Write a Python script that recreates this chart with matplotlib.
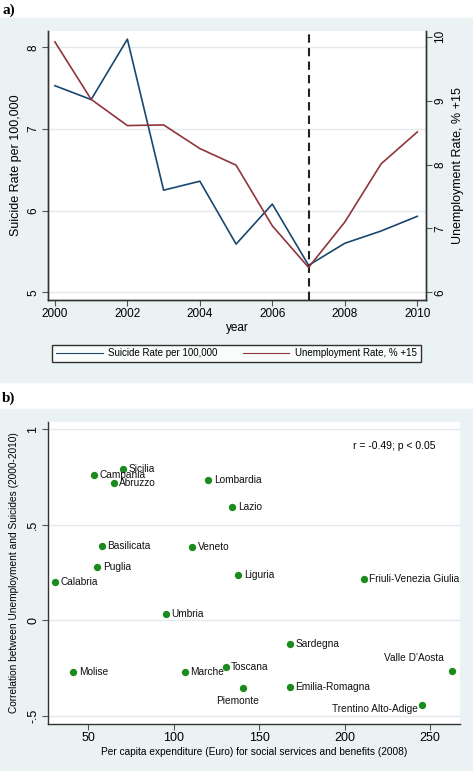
import matplotlib
matplotlib.use("Agg")
import matplotlib.pyplot as plt
from matplotlib.patches import Rectangle

plt.rcParams['font.family'] = ['Liberation Sans', 'DejaVu Sans']

# panel a data
years = [2000, 2001, 2002, 2003, 2004, 2005, 2006, 2007, 2008, 2009, 2010]
suicide_rate = [7.53, 7.36, 8.10, 6.25, 6.36, 5.59, 6.08, 5.33, 5.60, 5.75, 5.93]
unemployment_rate = [9.92, 9.02, 8.61, 8.62, 8.25, 7.99, 7.04, 6.39, 7.10, 8.01, 8.51]
crisis_year = 2007

# panel b data
regions = ["Sicilia", "Campania", "Abruzzo", "Lombardia", "Lazio", "Basilicata",
           "Veneto", "Puglia", "Calabria", "Liguria", "Friuli-Venezia Giulia",
           "Umbria", "Sardegna", "Molise", "Marche", "Toscana", "Piemonte",
           "Emilia-Romagna", "Valle D'Aosta", "Trentino Alto-Adige"]
expenditure = [70.3, 53.5, 64.8, 120.2, 134.3, 57.8, 110.9, 55.3, 30.3, 137.8,
               211.2, 95.3, 168.2, 41.2, 106.6, 130.4, 140.7, 168.0, 262.9, 245.5]
correlation = [0.792, 0.761, 0.719, 0.735, 0.592, 0.391, 0.386, 0.278, 0.203, 0.239,
               0.215, 0.032, -0.123, -0.268, -0.268, -0.245, -0.354, -0.347, -0.265, -0.444]
# label placement: r = right, b = below, ul = upper left, l = left
label_pos = ["r"] * 16 + ["b", "r", "ul", "l"]

BG = "#EAF2F3"
GRID = "#E2EAEC"
NAVY = "#1A476F"
MAROON = "#90353B"
GREEN = "#1C8A1C"

W, H = 473, 771
fig = plt.figure(figsize=(W / 100, H / 100), dpi=100)

# grey backgrounds behind each panel
fig.patches.append(Rectangle((0, 1 - 382 / H), 1, (382 - 18) / H,
                             transform=fig.transFigure, color=BG, zorder=-10))
fig.patches.append(Rectangle((0, 0), 1, 1 - 409 / H,
                             transform=fig.transFigure, color=BG, zorder=-10))

fig.text(2 / W, 1 - 10 / H, "a)", family="Liberation Serif", fontweight="bold",
         fontsize=11, va="center", ha="left")
fig.text(2 / W, 1 - 398 / H, "b)", family="Liberation Serif", fontweight="bold",
         fontsize=11, va="center", ha="left")

# ---------- panel a ----------
ax = fig.add_axes([48 / W, 1 - 300 / H, (426 - 48) / W, (300 - 31) / H])
ax.set_facecolor("white")
l1, = ax.plot(years, suicide_rate, color=NAVY, lw=1.2, label="Suicide Rate per 100,000")
ax.axvline(crisis_year, color="#222222", lw=1.5, ls=(0, (4, 2.5)))
ax.set_xlim(1999.81, 2010.24)
ax.set_ylim(4.905, 8.2)
ax.set_yticks([5, 6, 7, 8])
ax.set_xticks([2000, 2002, 2004, 2006, 2008, 2010])
ax.grid(axis="y", color=GRID, lw=1)
ax.set_axisbelow(True)
ax.set_ylabel("Suicide Rate per 100,000", fontsize=9, labelpad=4)
ax.set_xlabel("year", fontsize=8.5, labelpad=1)
for lab in ax.get_yticklabels():
    lab.set_rotation(90)
    lab.set_va("center")

ax2 = ax.twinx()
l2, = ax2.plot(years, unemployment_rate, color=MAROON, lw=1.2, label="Unemployment Rate, % +15")
ax2.set_ylim(5.88, 10.09)
ax2.set_yticks([6, 7, 8, 9, 10])
ax2.set_ylabel("Unemployment Rate, % +15", fontsize=9, labelpad=4)
for lab in ax2.get_yticklabels():
    lab.set_rotation(90)
    lab.set_va("center")

for a in (ax, ax2):
    a.spines["top"].set_visible(False)
    for s in ("left", "bottom", "right"):
        a.spines[s].set_color("#333333")
        a.spines[s].set_linewidth(1)
    a.tick_params(labelsize=8.5, length=4, width=0.8, color="#555555", pad=2)

leg = ax.legend(handles=[l1, l2], ncol=2, loc="center", mode="expand",
                bbox_to_anchor=(52 / W, 1 - 365 / H, (421 - 52) / W, 23 / H),
                bbox_transform=fig.transFigure, fontsize=7, frameon=True,
                fancybox=False, handlelength=4.8, handletextpad=0.6, borderaxespad=0)
leg.get_frame().set_edgecolor("black")
leg.get_frame().set_linewidth(1)
for ln in leg.get_lines():
    ln.set_linewidth(0.8)

# ---------- panel b ----------
bx = fig.add_axes([47.7 / W, 1 - 724 / H, (460 - 47.7) / W, (724 - 422) / H])
bx.set_facecolor("white")
bx.scatter(expenditure, correlation, s=28, color=GREEN, zorder=3, linewidths=0)
bx.set_xlim(26.2, 267.6)
bx.set_ylim(-0.542, 1.038)
bx.set_xticks([50, 100, 150, 200, 250])
bx.set_yticks([-0.5, 0, 0.5, 1])
bx.set_yticklabels(["-.5", "0", ".5", "1"])
bx.grid(axis="y", color=GRID, lw=1)
bx.set_axisbelow(True)
for lab in bx.get_yticklabels():
    lab.set_rotation(90)
    lab.set_va("center")
bx.spines["top"].set_visible(False)
bx.spines["right"].set_visible(False)
for s in ("left", "bottom"):
    bx.spines[s].set_color("#333333")
    bx.spines[s].set_linewidth(1)
bx.tick_params(labelsize=9, length=4, width=0.8, color="#555555", pad=2)
bx.set_xlabel("Per capita expenditure (Euro) for social services and benefits (2008)",
              fontsize=7.3, labelpad=2)
bx.set_ylabel("Correlation between Unemployment and Suicides (2000-2010)",
              fontsize=7.3, labelpad=6)

offsets = {"r": ((4, 0), "left", "center"),
           "b": ((-4, -6), "center", "top"),
           "ul": ((-6, 6), "right", "bottom"),
           "l": ((-3, -3), "right", "center")}
for name, xv, yv, pos in zip(regions, expenditure, correlation, label_pos):
    (dx, dy), ha, va = offsets[pos]
    bx.annotate(name, (xv, yv), xytext=(dx, dy), textcoords="offset points",
                ha=ha, va=va, fontsize=7.3, color="#111111")

bx.text(0.94, 0.92, "r = -0.49; p < 0.05", transform=bx.transAxes,
        ha="right", va="center", fontsize=7.5)

fig.savefig("out.png", dpi=100)
